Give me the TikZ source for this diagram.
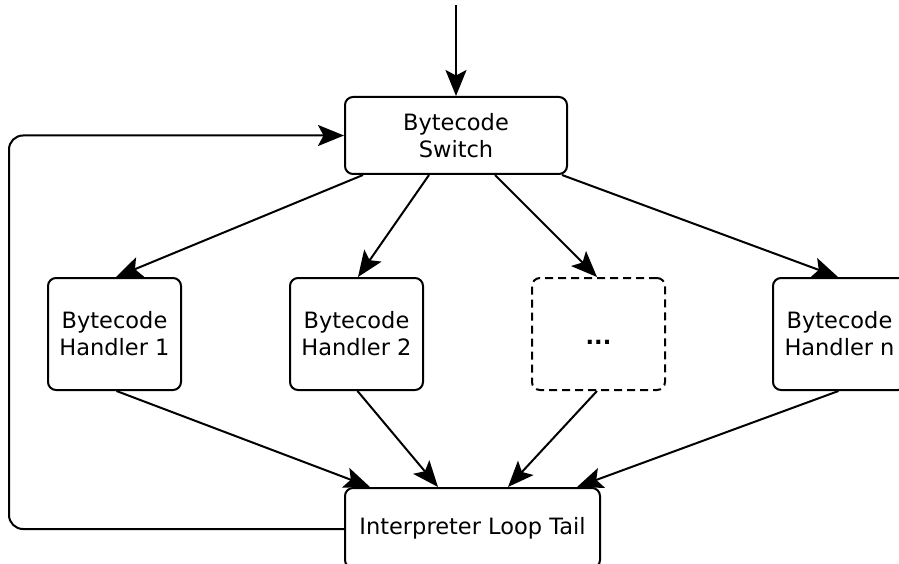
\documentclass[tikz,border=0pt]{standalone}
\usepackage{fontspec}
\setmainfont{DejaVu Sans}
\usetikzlibrary{arrows.meta,calc}
\begin{document}
\begin{tikzpicture}[x=1pt,y=-1pt,
  box/.style={draw, line width=2pt, rounded corners=8pt, align=center,
    font=\fontsize{22.5}{27}\selectfont, inner sep=0pt},
  handler/.style={box, minimum width=133pt, minimum height=112pt},
  flow/.style={draw, line width=2pt,
    -{Stealth[length=26pt,width=21pt,inset=5.5pt]}},
  dashbox/.style={dash pattern=on 8pt off 5pt}
]
\useasboundingbox (0,0) rectangle (899,564);
\clip (0,0) rectangle (899,564);

% dispatcher at the top
\node[box, minimum width=222pt, minimum height=77pt] (sw) at (456,135.5)
  {Bytecode\\Switch};
\coordinate (entry) at (456,5);

% the handlers
\node[handler] (h1) at (114.5,334) {Bytecode\\Handler 1};
\node[handler] (h2) at (356.5,334) {Bytecode\\Handler 2};
\node[handler, dashbox] (hd) at (598.5,334) {};
\node at (598.5,342) {\fontsize{22.5}{27}\selectfont\textbf{...}};
\node[handler] (hn) at (839.5,334) {Bytecode\\Handler n};

% common tail of the loop
\node[box, minimum width=255pt, minimum height=80pt] (tail) at (472.5,528)
  {Interpreter Loop Tail};

% arrows
\draw[flow] (entry) -- (sw.north);
\draw[flow] ([xshift=-93pt]sw.south) -- ([xshift=1.5pt]h1.north);
\draw[flow] ([xshift=-27pt]sw.south) -- ([xshift=1.5pt]h2.north);
\draw[flow] ([xshift=39pt]sw.south) -- ([xshift=-1.5pt]hd.north);
\draw[flow] ([xshift=106pt]sw.south) -- ([xshift=-1.5pt]hn.north);

\draw[flow] ([xshift=2pt]h1.south) -- ([xshift=-102.5pt]tail.north);
\draw[flow] ([xshift=1pt]h2.south) -- ([xshift=-34.5pt]tail.north);
\draw[flow] ([xshift=-1.5pt]hd.south) -- ([xshift=35.5pt]tail.north);
\draw[flow] ([xshift=-1pt]hn.south) -- ([xshift=104.5pt]tail.north);

% back edge from the tail to the switch
\draw[flow, rounded corners=14pt] ([yshift=-1pt]tail.west) -| (9,135.5) -- (sw.west);
\end{tikzpicture}
\end{document}
